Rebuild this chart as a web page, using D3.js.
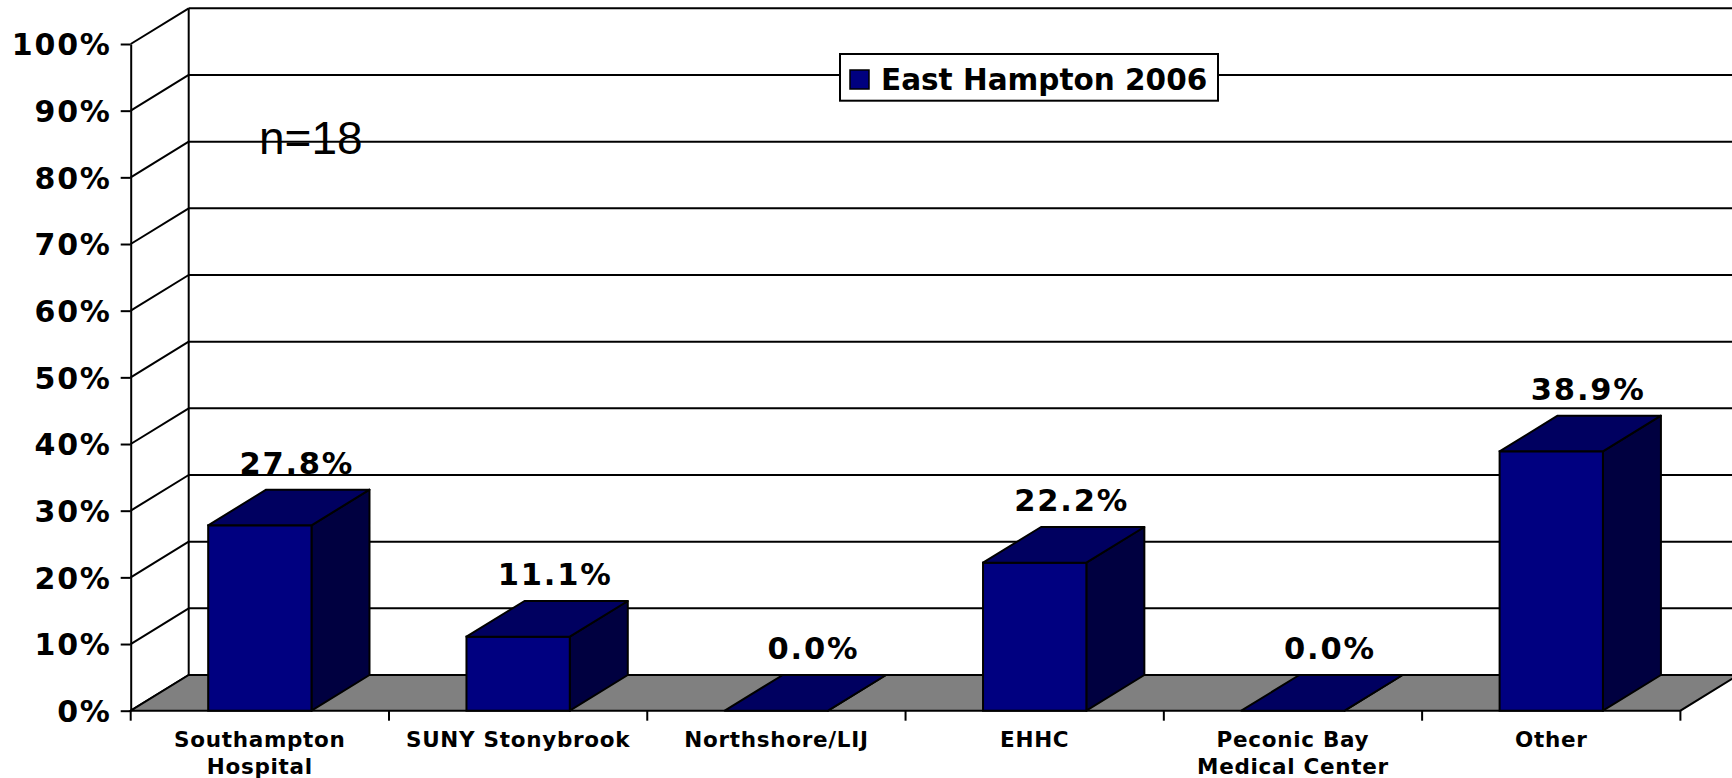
<!DOCTYPE html>
<html>
<head>
<meta charset="utf-8">
<script src="https://cdn.jsdelivr.net/npm/d3@7"></script>
<style>
  body { margin: 0; background: #fff; }
  svg { display: block; }
  text { font-family: "DejaVu Sans", Verdana, sans-serif; font-weight: bold; fill: #000; }
</style>
</head>
<body>
<svg width="1732" height="778"></svg>
<script>
'use strict';

// data
var categories = [["Southampton", "Hospital"], ["SUNY Stonybrook"], ["Northshore/LIJ"], ["EHHC"], ["Peconic Bay", "Medical Center"], ["Other"]];
var values = [27.8, 11.1, 0.0, 22.2, 0.0, 38.9];
var yTicks = [0, 10, 20, 30, 40, 50, 60, 70, 80, 90, 100];
var seriesName = "East Hampton 2006";
var note = "n=18";

let svg = d3.select("svg"),
    width = +svg.attr("width"),
    height = +svg.attr("height");

// fake 3d: depth offset of the back wall
var dx = 58, dy = -35.7;
var plotL = 130.7, plotR = 1680.4, plotB = 710.7, plotT = 44;

var ids = categories.map(function(c, i){ return i; });
var slot = d3.scaleBand().domain(ids).range([plotL, plotR]);
var x = d3.scaleBand().domain(ids).range([plotL, plotR]).paddingInner(0.6).paddingOuter(0.3);
var y = d3.scaleLinear().domain([0, 100]).range([plotB, plotT]);

var g = svg.append("g");

// side wall + back wall grid lines
g.append("g").selectAll("line")
    .data(yTicks)
    .enter().append("line")
    .attr("x1", plotL).attr("y1", function(d){ return y(d); })
    .attr("x2", plotL + dx).attr("y2", function(d){ return y(d) + dy; })
    .attr("stroke", "#000").attr("stroke-width", 2);
g.append("g").selectAll("line")
    .data(yTicks)
    .enter().append("line")
    .attr("x1", plotL + dx).attr("y1", function(d){ return y(d) + dy; })
    .attr("x2", width).attr("y2", function(d){ return y(d) + dy; })
    .attr("stroke", "#000").attr("stroke-width", 2);
g.append("line")
    .attr("x1", plotL + dx).attr("y1", y(0) + dy)
    .attr("x2", plotL + dx).attr("y2", y(100) + dy)
    .attr("stroke", "#000").attr("stroke-width", 2);

// floor
g.append("path")
    .attr("d", "M" + plotL + "," + plotB + "L" + plotR + "," + plotB +
               "L" + (plotR + dx) + "," + (plotB + dy) + "L" + (plotL + dx) + "," + (plotB + dy) + "Z")
    .attr("fill", "#808080").attr("stroke", "#000").attr("stroke-width", 2);

// y axis
var yAxis = g.append("g")
    .attr("transform", "translate(" + plotL + ",0)")
    .call(d3.axisLeft(y).tickValues(yTicks).tickSize(10).tickSizeOuter(0).tickPadding(9)
        .tickFormat(function(d){ return d + "%"; }));
yAxis.select(".domain").attr("stroke", "#000").attr("stroke-width", 2);
yAxis.selectAll(".tick line").attr("stroke", "#000").attr("stroke-width", 2);
yAxis.selectAll(".tick text")
    .attr("font-family", "DejaVu Sans, Verdana, sans-serif")
    .attr("font-weight", "bold")
    .attr("font-size", 30)
    .attr("letter-spacing", 1.8)
    .attr("dy", "0.36em")
    .attr("fill", "#000");

// category ticks on the floor edge
var bounds = ids.map(function(i){ return slot(i); }).concat([plotR]);
g.append("g").selectAll("line")
    .data(bounds)
    .enter().append("line")
    .attr("x1", function(d){ return d; }).attr("x2", function(d){ return d; })
    .attr("y1", plotB).attr("y2", plotB + 10)
    .attr("stroke", "#000").attr("stroke-width", 2);

// category labels
var catText = g.append("g").selectAll("text")
    .data(categories)
    .enter().append("text")
    .attr("text-anchor", "middle")
    .attr("font-size", 21.5)
    .attr("letter-spacing", 0.7)
    .attr("x", function(d, i){ return slot(i) + slot.bandwidth() / 2; })
    .attr("y", 747);
catText.selectAll("tspan")
    .data(function(d){ return d; })
    .enter().append("tspan")
    .attr("x", function(){ return d3.select(this.parentNode).attr("x"); })
    .attr("dy", function(d, j){ return j == 0 ? 0 : 27; })
    .text(function(d){ return d; });

// bars
var bars = g.append("g").selectAll("g")
    .data(values)
    .enter().append("g");
bars.append("path")
    .attr("d", function(d, i){
        var x1 = x(i) + x.bandwidth(), yt = y(d);
        return "M" + x1 + "," + yt + "L" + (x1 + dx) + "," + (yt + dy) +
               "L" + (x1 + dx) + "," + (plotB + dy) + "L" + x1 + "," + plotB + "Z";
    })
    .attr("fill", "#000040").attr("stroke", "#000").attr("stroke-width", 2).attr("stroke-linejoin", "round");
bars.append("rect")
    .attr("x", function(d, i){ return x(i); })
    .attr("y", function(d){ return y(d); })
    .attr("width", x.bandwidth())
    .attr("height", function(d){ return plotB - y(d); })
    .attr("fill", "#000080").attr("stroke", "#000").attr("stroke-width", 2);
bars.append("path")
    .attr("d", function(d, i){
        var x0 = x(i), x1 = x(i) + x.bandwidth(), yt = y(d);
        return "M" + x0 + "," + yt + "L" + (x0 + dx) + "," + (yt + dy) +
               "L" + (x1 + dx) + "," + (yt + dy) + "L" + x1 + "," + yt + "Z";
    })
    .attr("fill", "#000060").attr("stroke", "#000").attr("stroke-width", 2).attr("stroke-linejoin", "round");

// value labels
g.append("g").selectAll("text")
    .data(values)
    .enter().append("text")
    .attr("text-anchor", "middle")
    .attr("font-size", 30.5)
    .attr("letter-spacing", 1.8)
    .attr("x", function(d, i){ return x(i) + x.bandwidth() / 2 + 37; })
    .attr("y", function(d){ return y(d) + dy - 16; })
    .text(function(d){ return d3.format(".1f")(d) + "%"; });

// legend
var legend = g.append("g").attr("transform", "translate(840,54)");
legend.append("rect")
    .attr("width", 378).attr("height", 46.7)
    .attr("fill", "#fff").attr("stroke", "#000").attr("stroke-width", 2);
legend.append("rect")
    .attr("x", 10).attr("y", 16).attr("width", 19).attr("height", 19)
    .attr("fill", "#000080").attr("stroke", "#000").attr("stroke-width", 1.5);
legend.append("text")
    .attr("x", 41).attr("y", 36)
    .attr("font-size", 29.5)
    .text(seriesName);

// sample size
g.append("text")
    .attr("x", 259).attr("y", 154)
    .style("font-family", "'Liberation Sans', Arial, sans-serif")
    .style("font-weight", "normal")
    .attr("font-size", 46)
    .text(note);
</script>
</body>
</html>
